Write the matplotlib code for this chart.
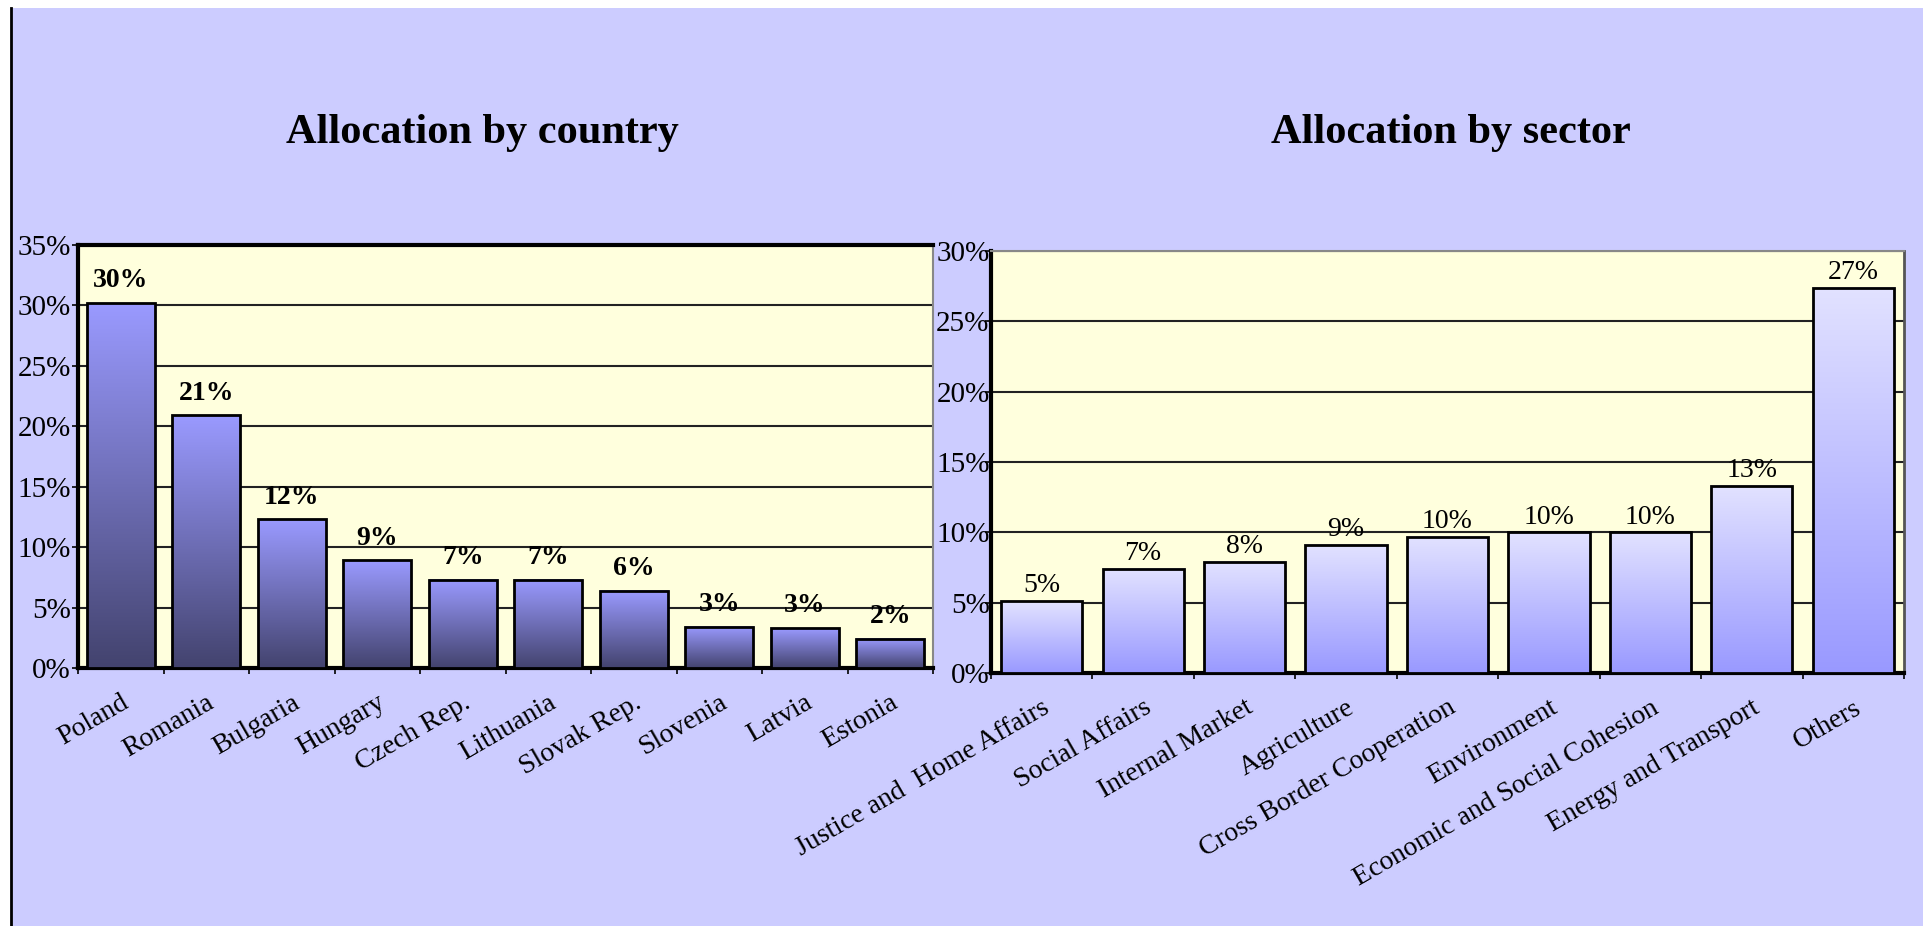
import numpy as np
import matplotlib.pyplot as plt
from matplotlib.colors import LinearSegmentedColormap
from matplotlib.patches import Rectangle
from matplotlib.lines import Line2D

countries = ["Poland", "Romania", "Bulgaria", "Hungary", "Czech Rep.", "Lithuania",
             "Slovak Rep.", "Slovenia", "Latvia", "Estonia"]
country_share = [30.2, 20.9, 12.3, 8.9, 7.3, 7.3, 6.4, 3.4, 3.3, 2.4]
country_ticks = [0, 5, 10, 15, 20, 25, 30, 35]

sectors = ["Justice and  Home Affairs", "Social Affairs", "Internal Market", "Agriculture",
           "Cross Border Cooperation", "Environment", "Economic and Social Cohesion",
           "Energy and Transport", "Others"]
sector_share = [5.1, 7.4, 7.9, 9.1, 9.7, 10.0, 10.0, 13.3, 27.4]
sector_ticks = [0, 5, 10, 15, 20, 25, 30]

plt.rcParams['font.family'] = ['Liberation Serif', 'DejaVu Serif']

W, H = 1923, 926
fig = plt.figure(figsize=(W / 100, H / 100), dpi=100, facecolor='white')

# lavender panel with a black left border
fig.patches.append(Rectangle((11 / W, 0), 1, 1 - 8 / H, transform=fig.transFigure,
                             facecolor='#CCCCFF', edgecolor='none', zorder=-10))
fig.lines.append(Line2D([11 / W, 11 / W], [0, 1 - 8 / H], transform=fig.transFigure,
                        color='black', lw=2))


def draw_panel(rect, labels, values, ticks, bottom_color, top_color, label_weight,
               label_offset):
    ax = fig.add_axes(rect)
    ax.set_facecolor('#FFFFDD')
    cmap = LinearSegmentedColormap.from_list('fill', [bottom_color, top_color])
    grad = np.linspace(0, 1, 256).reshape(-1, 1)
    x = np.arange(len(values))
    bars = ax.bar(x, values, width=0.8, facecolor='none', edgecolor='black',
                  linewidth=2, zorder=4)
    # vertical gradient fill inside each bar
    for b, v in zip(bars, values):
        bx, bw, bh = b.get_x(), b.get_width(), b.get_height()
        ax.imshow(grad, extent=[bx, bx + bw, 0, bh], origin='lower', aspect='auto',
                  cmap=cmap, zorder=3)
        ax.annotate(f"{v:.0f}%", (bx + bw / 2, bh), xytext=(0, label_offset),
                    textcoords='offset points', ha='center', va='bottom',
                    fontsize=20, fontweight=label_weight, zorder=5)
    ax.set_xlim(-0.5, len(values) - 0.5)
    ax.set_ylim(0, ticks[-1])
    ax.set_yticks(ticks)
    ax.set_yticklabels([f"{t}%" for t in ticks], fontsize=21)
    ax.set_xticks(x)
    ax.set_xticklabels(labels, rotation=30, ha='right', va='top',
                       rotation_mode='anchor', fontsize=20)
    ax.set_xticks(np.arange(len(values) + 1) - 0.5, minor=True)
    ax.tick_params(axis='x', which='major', length=0, pad=16)
    ax.tick_params(axis='x', which='minor', length=4, width=1.2)
    ax.tick_params(axis='y', length=4, width=1.2, pad=1)
    ax.yaxis.grid(True, color='#222222', lw=1.5)
    ax.set_axisbelow(True)
    for side in ('left', 'bottom'):
        ax.spines[side].set_linewidth(3)
        ax.spines[side].set_color('black')
    return ax


left = draw_panel([78 / W, 1 - 668 / H, (933 - 78) / W, (668 - 245) / H],
                  countries, country_share, country_ticks,
                  '#43436E', '#9A9AFF', 'bold', 7)
left.spines['top'].set_linewidth(3)
left.spines['right'].set_color('#888888')
left.spines['right'].set_linewidth(1.5)

right = draw_panel([991 / W, 1 - 673 / H, (1904 - 991) / W, (673 - 251) / H],
                   sectors, sector_share, sector_ticks,
                   '#9999FF', '#E2E2FF', 'normal', 2)
right.spines['top'].set_color('#888888')
right.spines['top'].set_linewidth(1.5)
right.spines['right'].set_color('#555555')
right.spines['right'].set_linewidth(2)
right.tick_params(axis='y', pad=-3)

fig.text(482 / W, 1 - 143 / H, "Allocation by country", ha='center', va='baseline',
         fontsize=30.5, fontweight='bold')
fig.text(1451 / W, 1 - 143 / H, "Allocation by sector", ha='center', va='baseline',
         fontsize=30.5, fontweight='bold')

fig.savefig("out.png", dpi=100, facecolor=fig.get_facecolor())
